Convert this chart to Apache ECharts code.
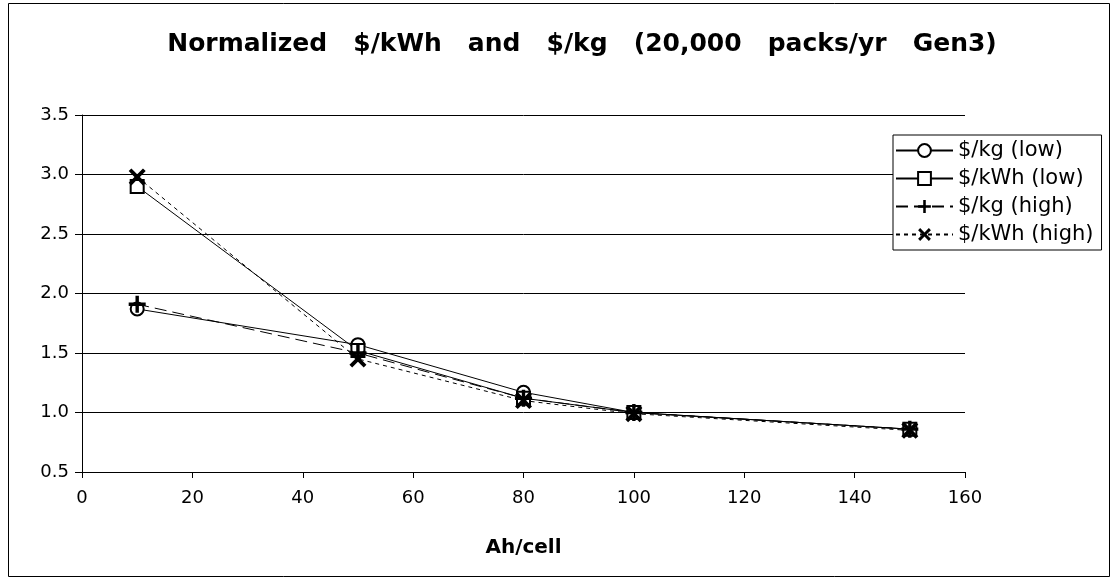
<!DOCTYPE html>
<html><head><meta charset="utf-8">
<script src="https://cdn.jsdelivr.net/npm/echarts@6/dist/echarts.min.js"></script>
<style>html,body{margin:0;padding:0;background:#fff}#c{width:1114px;height:581px}</style>
</head><body><div id="c"></div>
<script>
const ahPerCell = [10, 50, 80, 100, 150];
const kgLow = [1.87, 1.57, 1.17, 1.00, 0.86];
const kwhLow = [2.90, 1.52, 1.12, 1.00, 0.86];
const kgHigh = [1.91, 1.50, 1.12, 1.00, 0.86];
const kwhHigh = [2.98, 1.45, 1.10, 0.99, 0.85];
const seriesNames = ['$/kg (low)', '$/kWh (low)', '$/kg (high)', '$/kWh (high)'];
const titleText = 'Normalized   $/kWh   and   $/kg   (20,000   packs/yr   Gen3)';
const xName = 'Ah/cell';

const pts = a => ahPerCell.map((x, i) => [x, a[i]]);
const plusPath = 'path://M4,0H6V4H10V6H6V10H4V6H0V4H4Z';
const crossPath = 'path://M0,1.6L1.6,0L5,3.4L8.4,0L10,1.6L6.6,5L10,8.4L8.4,10L5,6.6L1.6,10L0,8.4L3.4,5Z';
const font = 'DejaVu Sans';
function s(name, data, symbol, dash, filled, size) {
  return {
    name, type: 'line', data: pts(data), symbol, symbolSize: size,
    lineStyle: { color: '#000', width: 1, type: dash },
    itemStyle: { color: filled ? '#000' : '#fff', borderColor: '#000', borderWidth: filled ? 0 : 2 },
    emphasis: { disabled: true }, animation: false
  };
}
const chart = echarts.init(document.getElementById('c'));
chart.setOption({
  backgroundColor: '#fff',
  animation: false,
  title: {
    text: titleText, left: 577, top: 27, textAlign: 'center',
    textStyle: { fontFamily: font, fontSize: 25, fontWeight: 'bold', color: '#000' }
  },
  graphic: [{ type: 'rect', shape: { x: 8.5, y: 3.5, width: 1101, height: 573 },
    style: { fill: 'none', stroke: '#000', lineWidth: 1 }, z: -1 }],
  legend: {
    orient: 'vertical', left: 893, top: 135, itemGap: 7,
    backgroundColor: '#fff', borderColor: '#000', borderWidth: 1, padding: [5, 8, 5, 2],
    itemWidth: 57, itemHeight: 16,
    textStyle: { fontFamily: font, fontSize: 21, color: '#000' },
    data: seriesNames
  },
  grid: { left: 82, right: 149, top: 115, bottom: 109, containLabel: false },
  xAxis: {
    type: 'value', min: 0, max: 160, interval: 20,
    name: xName, nameLocation: 'middle', nameGap: 66,
    nameTextStyle: { fontFamily: font, fontSize: 20, fontWeight: 'bold', color: '#000' },
    axisLine: { lineStyle: { color: '#000' } },
    axisTick: { show: true, length: 6, lineStyle: { color: '#000' } },
    axisLabel: { fontFamily: font, fontSize: 18, color: '#000', margin: 17 },
    splitLine: { show: false }
  },
  yAxis: {
    type: 'value', min: 0.5, max: 3.5, interval: 0.5,
    axisLine: { show: true, lineStyle: { color: '#000' } },
    axisTick: { show: true, length: 7, lineStyle: { color: '#000' } },
    axisLabel: { fontFamily: font, fontSize: 18, color: '#000', margin: 13, formatter: v => v.toFixed(1) },
    splitLine: { show: true, lineStyle: { color: '#000', width: 1 } }
  },
  series: [
    s(seriesNames[0], kgLow, 'circle', 'solid', false, 13),
    s(seriesNames[1], kwhLow, 'rect', 'solid', false, 13),
    s(seriesNames[2], kgHigh, plusPath, [12, 6], true, 17),
    s(seriesNames[3], kwhHigh, crossPath, [4, 4], true, 17)
  ]
});
</script></body></html>
